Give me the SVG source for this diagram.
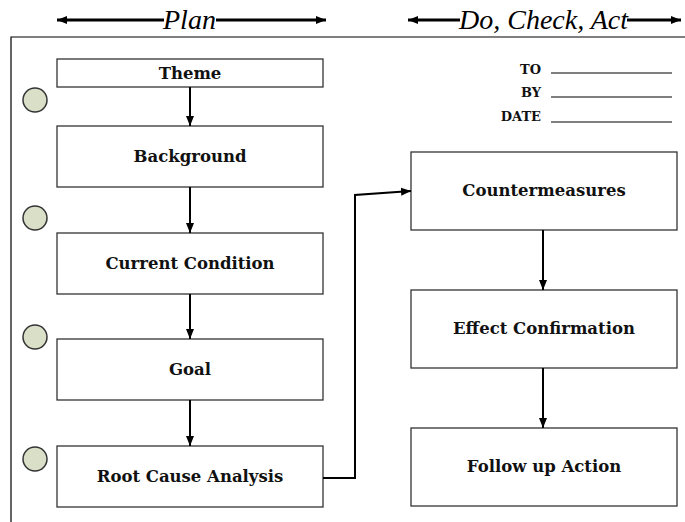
<svg xmlns="http://www.w3.org/2000/svg" width="685" height="522" viewBox="0 0 685 522">
<defs>
<marker id="ah2" viewBox="0 0 10 10" refX="10" refY="5" markerWidth="14" markerHeight="10" orient="auto-start-reverse" markerUnits="userSpaceOnUse">
<path d="M0,1 L10,5 L0,9 z" fill="#000"/>
</marker>
<marker id="ah3" viewBox="0 0 10 10" refX="10" refY="5" markerWidth="10" markerHeight="10" orient="auto" markerUnits="userSpaceOnUse">
<path d="M0,1 L10,5 L0,9 z" fill="#000"/>
</marker>
</defs>
<style>
.box{fill:#fff;stroke:#333;stroke-width:1.3}
.lbl{font-family:"DejaVu Serif",serif;font-weight:bold;font-size:16.5px;fill:#111;text-anchor:middle}
.hdr{font-family:"Liberation Serif",serif;font-style:italic;font-size:28px;fill:#000}
.sm{font-family:"DejaVu Serif",serif;font-weight:bold;font-size:13px;fill:#111;text-anchor:end}
.dot{fill:#dadfc8;stroke:#333;stroke-width:1.5}
.conn{stroke:#000;stroke-width:2;fill:none}
.rule{stroke:#000;stroke-width:1}
</style>
<rect width="685" height="522" fill="#fff"/>
<g id="header">
<line x1="57" y1="20" x2="164" y2="20" stroke="#000" stroke-width="3" marker-start="url(#ah2)"/>
<text class="hdr" x="163" y="29">Plan</text>
<line x1="216" y1="20" x2="326" y2="20" stroke="#000" stroke-width="3" marker-end="url(#ah2)"/>
<line x1="408" y1="20" x2="460" y2="20" stroke="#000" stroke-width="3" marker-start="url(#ah2)"/>
<text class="hdr" x="459" y="29">Do, Check, Act</text>
<line x1="627" y1="20" x2="681" y2="20" stroke="#000" stroke-width="3" marker-end="url(#ah2)"/>
</g>
<g id="frame">
<polyline points="11,522 11,37 685,37" fill="none" stroke="#000" stroke-width="1.2"/>
</g>
<g id="signoff">
<text class="sm" x="541" y="74">TO</text>
<text class="sm" x="541" y="97">BY</text>
<text class="sm" x="541" y="121">DATE</text>
<line class="rule" x1="551" y1="73" x2="672" y2="73"/>
<line class="rule" x1="551" y1="97" x2="672" y2="97"/>
<line class="rule" x1="551" y1="122" x2="672" y2="122"/>
</g>
<g id="circles">
<circle class="dot" cx="35" cy="100" r="12"/>
<circle class="dot" cx="35" cy="218" r="12"/>
<circle class="dot" cx="35" cy="337" r="12"/>
<circle class="dot" cx="35" cy="459" r="12"/>
</g>
<g id="theme"><rect class="box" x="57" y="59" width="266" height="28"/><text class="lbl" x="190" y="79">Theme</text></g>
<g id="background"><rect class="box" x="57" y="126" width="266" height="61"/><text class="lbl" x="190" y="162">Background</text></g>
<g id="current"><rect class="box" x="57" y="233" width="266" height="61"/><text class="lbl" x="190" y="269">Current Condition</text></g>
<g id="goal"><rect class="box" x="57" y="339" width="266" height="61"/><text class="lbl" x="190" y="375">Goal</text></g>
<g id="rootcause"><rect class="box" x="57" y="446" width="266" height="61"/><text class="lbl" x="190" y="482">Root Cause Analysis</text></g>
<g id="countermeasures"><rect class="box" x="411" y="152" width="266" height="78"/><text class="lbl" x="544" y="196">Countermeasures</text></g>
<g id="effect"><rect class="box" x="411" y="290" width="266" height="78"/><text class="lbl" x="544" y="334">Effect Confirmation</text></g>
<g id="followup"><rect class="box" x="411" y="428" width="266" height="78"/><text class="lbl" x="544" y="472">Follow up Action</text></g>
<g id="connectors">
<line class="conn" x1="190" y1="87" x2="190" y2="126" marker-end="url(#ah3)"/>
<line class="conn" x1="190" y1="187" x2="190" y2="233" marker-end="url(#ah3)"/>
<line class="conn" x1="190" y1="294" x2="190" y2="339" marker-end="url(#ah3)"/>
<line class="conn" x1="190" y1="400" x2="190" y2="446" marker-end="url(#ah3)"/>
<line class="conn" x1="543" y1="230" x2="543" y2="290" marker-end="url(#ah3)"/>
<line class="conn" x1="543" y1="368" x2="543" y2="428" marker-end="url(#ah3)"/>
<polyline class="conn" points="323,478 355,478 355,195 411,191" marker-end="url(#ah3)"/>
</g>
</svg>
